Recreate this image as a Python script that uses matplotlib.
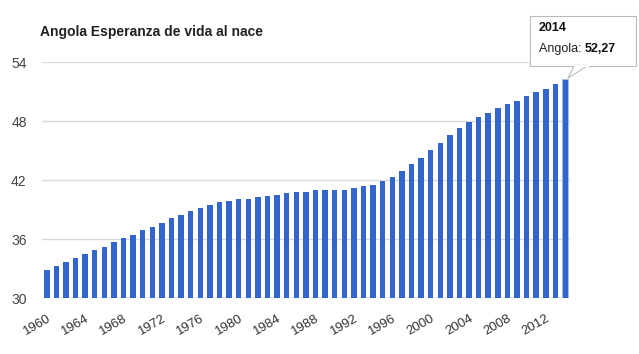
import matplotlib.pyplot as plt
from matplotlib.patches import FancyBboxPatch, Polygon

plt.rcParams['font.family'] = ['Liberation Sans', 'DejaVu Sans']

years = list(range(1960, 2015))
esperanza = [32.88, 33.25, 33.66, 34.10, 34.50, 34.88, 35.25, 35.70, 36.13, 36.47,
             36.95, 37.22, 37.70, 38.14, 38.47, 38.85, 39.15, 39.52, 39.77, 39.90,
             40.07, 40.13, 40.30, 40.40, 40.50, 40.74, 40.81, 40.81, 40.98, 40.98,
             41.02, 41.02, 41.19, 41.39, 41.56, 41.93, 42.37, 42.92, 43.63, 44.30,
             45.06, 45.83, 46.58, 47.29, 47.93, 48.41, 48.88, 49.33, 49.80, 50.10,
             50.55, 51.02, 51.32, 51.80, 52.27]
y_ticks = [30, 36, 42, 48, 54]
pais = 'Angola'
titulo = 'Angola Esperanza de vida al nace'

fig = plt.figure(figsize=(6.39, 3.54), dpi=100)
ax = fig.add_axes([0.0657, 0.157, 0.826, 0.667])

x = list(range(len(years)))
bars = ax.bar(x, esperanza, width=0.57, color='#3366cc', zorder=3)
bars[-1].set_edgecolor('#a9bde6')
bars[-1].set_linewidth(0.7)

ax.set_ylim(30, 54)
ax.set_xlim(-0.5, len(years) - 0.5)
ax.set_yticks(y_ticks)
ax.set_yticklabels([str(t) for t in y_ticks], color='#444444', fontsize=10)
ax.grid(axis='y', color='#d9d9d9', linewidth=1, zorder=0)
ax.axhline(30, color='#cccccc', linewidth=1, zorder=1)
ax.tick_params(axis='y', length=0, pad=11)

xt = [i for i in x if years[i] % 4 == 0]
ax.set_xticks(xt)
ax.set_xticklabels([str(years[i]) for i in xt], rotation=30, ha='right',
                   rotation_mode='anchor', color='#333333', fontsize=9.5)
ax.tick_params(axis='x', length=0, pad=10)
for s in ax.spines.values():
    s.set_visible(False)

fig.text(0.063, 1 - 36 / 354, titulo, fontsize=10, fontweight='bold',
         color='#222222', va='baseline')

# tooltip on the last bar
lx, ly = x[-1], esperanza[-1]
box = FancyBboxPatch((lx - 3.6, ly + 1.4), 11.0, 5.0, boxstyle='square,pad=0',
                     facecolor='white', edgecolor='#bbbbbb', linewidth=0.8,
                     clip_on=False, zorder=10)
ax.add_patch(box)
ptr = Polygon([[lx + 0.3, ly + 0.1], [lx + 1.0, ly + 1.42], [lx + 2.4, ly + 1.42]],
              closed=True, facecolor='white', edgecolor='#bbbbbb', linewidth=0.8,
              clip_on=False, zorder=11)
ax.add_patch(ptr)
ax.plot([lx + 1.05, lx + 2.35], [ly + 1.4, ly + 1.4], color='white', lw=1.4,
        clip_on=False, zorder=12)
ax.text(lx - 2.7, ly + 5.2, str(years[-1]), fontsize=9, fontweight='bold',
        color='#111111', va='center', clip_on=False, zorder=13)
t1 = ax.text(lx - 2.7, ly + 3.1, pais + ': ', fontsize=9, color='#222222',
             va='center', clip_on=False, zorder=13)
fig.canvas.draw()
bb = t1.get_window_extent().transformed(ax.transData.inverted())
ax.text(bb.x1, ly + 3.1, f'{ly:.2f}'.replace('.', ','), fontsize=9,
        fontweight='bold', color='#111111', va='center', clip_on=False, zorder=13)

fig.savefig('out.png', dpi=100)
